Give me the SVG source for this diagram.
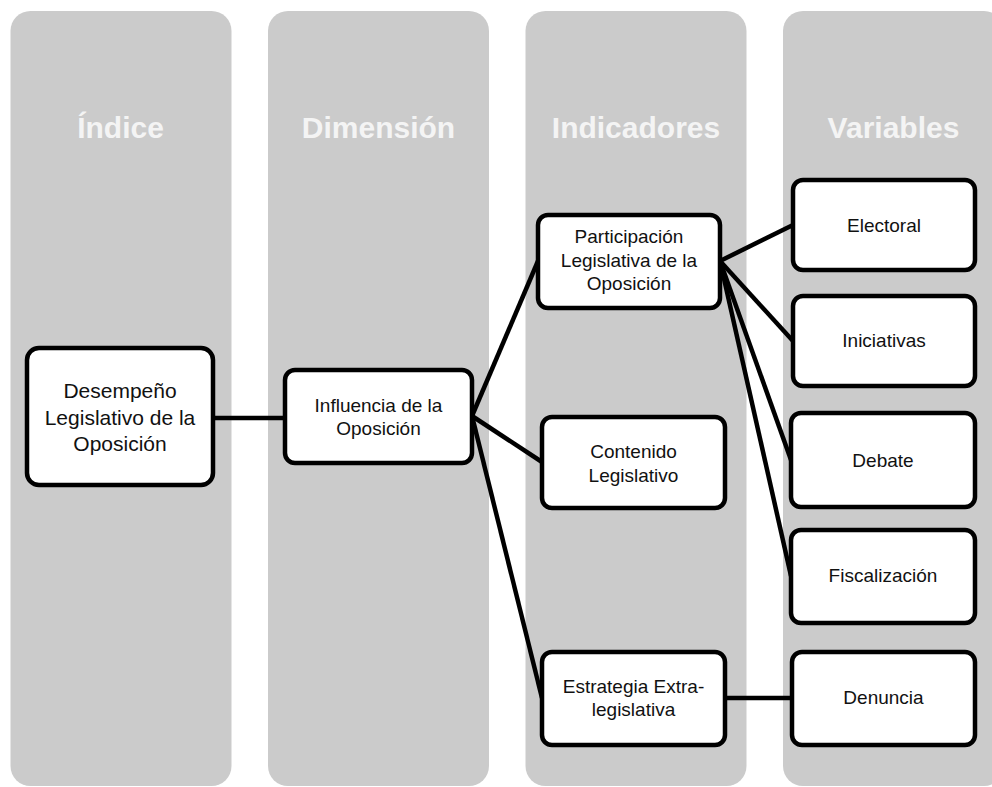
<svg xmlns="http://www.w3.org/2000/svg" width="992" height="787" viewBox="0 0 992 787">
<style>
.col{fill:#cbcbcb}
.hdr{font-family:"Liberation Sans",Arial,sans-serif;font-weight:bold;font-size:30px;fill:#f4f4f4;text-anchor:middle}
.box{fill:#ffffff;stroke:#000000;stroke-width:4.5}
.t{font-family:"Liberation Sans",Arial,sans-serif;font-size:19px;fill:#111111;text-anchor:middle}
.tb{font-size:21px}
.con{stroke:#000000;stroke-width:4.5;fill:none;stroke-linecap:butt}
</style>
<rect width="992" height="787" fill="#ffffff"/>
<g id="columns">
<rect class="col" x="10.5" y="11" width="221" height="775" rx="20"/>
<rect class="col" x="268" y="11" width="221" height="775" rx="20"/>
<rect class="col" x="525.5" y="11" width="221" height="775" rx="20"/>
<rect class="col" x="783" y="11" width="221" height="775" rx="20"/>
<text class="hdr" x="120.5" y="138">Índice</text>
<text class="hdr" x="378.5" y="138">Dimensión</text>
<text class="hdr" x="636" y="138">Indicadores</text>
<text class="hdr" x="893.5" y="138">Variables</text>
</g>
<g id="connectors">
<line class="con" x1="213" y1="418" x2="285" y2="418"/>
<line class="con" x1="472" y1="416" x2="538" y2="261"/>
<line class="con" x1="472" y1="416" x2="542" y2="462"/>
<line class="con" x1="472" y1="416" x2="542" y2="698"/>
<line class="con" x1="720" y1="261" x2="793" y2="225"/>
<line class="con" x1="720" y1="261" x2="793" y2="341"/>
<line class="con" x1="720" y1="261" x2="791" y2="460"/>
<line class="con" x1="720" y1="261" x2="791" y2="576"/>
<line class="con" x1="725" y1="698" x2="792" y2="698"/>
</g>
<g id="n-desempeno">
<rect class="box" x="27" y="348" width="186" height="137" rx="12"/>
<text class="t tb" x="120" y="398">Desempeño</text>
<text class="t tb" x="120" y="425">Legislativo de la</text>
<text class="t tb" x="120" y="451">Oposición</text>
</g>
<g id="n-influencia">
<rect class="box" x="285" y="370" width="187" height="93" rx="10"/>
<text class="t" x="378.5" y="412">Influencia de la</text>
<text class="t" x="378.5" y="435">Oposición</text>
</g>
<g id="n-participacion">
<rect class="box" x="538" y="215" width="182" height="93" rx="10"/>
<text class="t" x="629" y="243">Participación</text>
<text class="t" x="629" y="267">Legislativa de la</text>
<text class="t" x="629" y="290">Oposición</text>
</g>
<g id="n-contenido">
<rect class="box" x="542" y="417" width="183" height="91" rx="10"/>
<text class="t" x="633.5" y="458">Contenido</text>
<text class="t" x="633.5" y="482">Legislativo</text>
</g>
<g id="n-estrategia">
<rect class="box" x="542" y="652" width="183" height="93" rx="10"/>
<text class="t" x="633.5" y="693">Estrategia Extra-</text>
<text class="t" x="633.5" y="716">legislativa</text>
</g>
<g id="n-electoral">
<rect class="box" x="793" y="180" width="182" height="90" rx="10"/>
<text class="t" x="884" y="232">Electoral</text>
</g>
<g id="n-iniciativas">
<rect class="box" x="793" y="296" width="182" height="90" rx="10"/>
<text class="t" x="884" y="347">Iniciativas</text>
</g>
<g id="n-debate">
<rect class="box" x="791" y="413" width="184" height="94" rx="10"/>
<text class="t" x="883" y="467">Debate</text>
</g>
<g id="n-fiscalizacion">
<rect class="box" x="791" y="530" width="184" height="93" rx="10"/>
<text class="t" x="883" y="582">Fiscalización</text>
</g>
<g id="n-denuncia">
<rect class="box" x="792" y="652" width="183" height="93" rx="10"/>
<text class="t" x="883.5" y="704">Denuncia</text>
</g>
</svg>
